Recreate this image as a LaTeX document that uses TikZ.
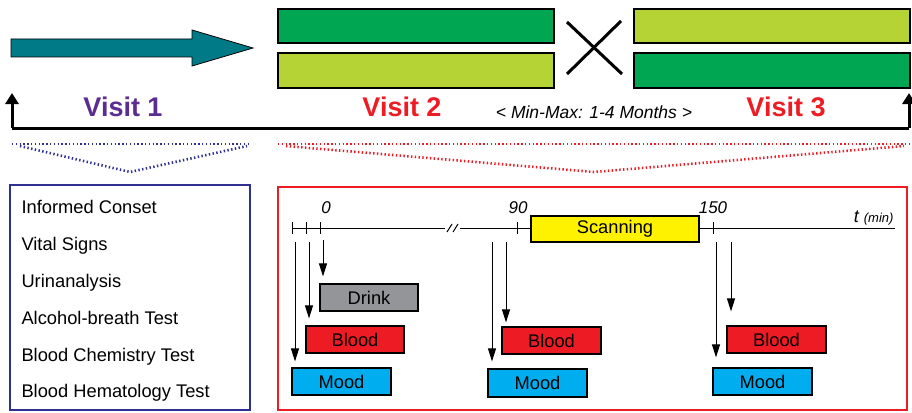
\documentclass[tikz,border=0pt]{standalone}
\usepackage{fontspec}
\setmainfont{Liberation Sans}
\usetikzlibrary{arrows.meta}
\definecolor{teal}{HTML}{007A87}
\definecolor{dgreen}{HTML}{00A651}
\definecolor{lime}{HTML}{B5D334}
\definecolor{vpurple}{HTML}{5C2D91}
\definecolor{vred}{HTML}{ED1C24}
\definecolor{navy}{HTML}{2E3192}
\definecolor{moodc}{HTML}{00AEEF}
\definecolor{drinkc}{HTML}{939598}
\definecolor{scanc}{HTML}{FFF200}
\begin{document}
\begin{tikzpicture}[x=1pt,y=-1pt,
  bar/.style={draw=black,line width=1.2pt},
  taskbox/.style={draw=black,line width=1.2pt,inner sep=0pt,font=\fontsize{18.3}{20}\selectfont},
  visit/.style={font=\fontsize{27}{30}\selectfont\bfseries,anchor=base},
  item/.style={font=\fontsize{18.3}{20}\selectfont,anchor=base west},
  tnum/.style={font=\fontsize{17}{19}\selectfont\itshape,anchor=base},
  down/.style={-{Triangle[length=13pt,width=8pt]},line width=1pt},
  bigup/.style={-{Triangle[length=11pt,width=13pt]},line width=3pt},
  dots/.style={line width=2.6pt,dash pattern=on 1.4pt off 2.4pt}]
\useasboundingbox (0,0) rectangle (912,412);

% design arrow and crossover bars
\draw[fill=teal,line width=0.8pt] (11,39) -- (192,39) -- (192,30) -- (253,48)
  -- (192,66) -- (192,57) -- (11,57) -- cycle;
\draw[bar,fill=dgreen] (278,9) rectangle (554,43);
\draw[bar,fill=lime] (278,53) rectangle (554,88);
\draw[bar,fill=lime] (634,9) rectangle (910,43);
\draw[bar,fill=dgreen] (634,53) rectangle (910,88);
\draw[line width=3pt] (567,22) -- (622,74);
\draw[line width=3pt] (567,74) -- (621,21);

% study timeline
\coordinate (tl) at (12,128);
\coordinate (tr) at (909,128);
\draw[bigup] (tl) -- (12,93);
\draw[bigup] (tr) -- (909,93);
\draw[line width=3pt] (tl) -- (tr);
\node[visit,text=vpurple] (v1) at (123,116) {Visit 1};
\node[visit,text=vred] (v2) at (402,116) {Visit 2};
\node[visit,text=vred] (v3) at (786,116) {Visit 3};
\node[font=\fontsize{17.5}{20}\selectfont\itshape,anchor=base] (mm) at (594,118) {< Min-Max: 1-4 Months >};

% dotted brackets
\draw[dots,navy] (12,144) -- (250,144);
\draw[dots,navy] (20,146) -- (130,172) -- (247,146);
\draw[dots,vred] (278,144) -- (909,144);
\draw[dots,vred] (286,146) -- (594,172) -- (904,146);

% visit 1 panel
\draw[navy,line width=2pt] (10,185) rectangle (250,410);
\node[item] (i1) at (18,213) {Informed Conset};
\node[item] (i2) at (18,250) {Vital Signs};
\node[item] (i3) at (18,287) {Urinanalysis};
\node[item] (i4) at (18,324) {Alcohol-breath Test};
\node[item] (i5) at (18,361) {Blood Chemistry Test};
\node[item] (i6) at (18,397) {Blood Hematology Test};

% visit 2/3 panel
\draw[vred,line width=2.5pt] (278,187) rectangle (907,410);
\draw[line width=1pt] (292,228) -- (445,228);
\draw[line width=1pt] (460,228) -- (895,228);
\draw[line width=1pt] (447,232) -- (452,224) (453,232) -- (458,224);
\foreach \x/\n in {292/k1,306/k2,320/k3,517/k4,713/k5}{
  \coordinate (\n) at (\x,228);
  \draw[line width=1pt] (\x,222) -- (\x,234);
}
\node[tnum] (n0) at (326,213) {0};
\node[tnum] (n90) at (518,213) {90};
\node[tnum] (n150) at (713,213) {150};
\node[anchor=base east] (tlab) at (897,222) {\fontsize{18}{20}\selectfont\itshape t \fontsize{13}{15}\selectfont(min)};

\node[taskbox,fill=scanc,minimum width=168pt,minimum height=26pt] (scan) at (615,229) {Scanning};
\node[taskbox,fill=drinkc,minimum width=98pt,minimum height=27pt] (drink) at (369,297.5) {Drink};
\node[taskbox,fill=vred,minimum width=98pt,minimum height=27pt] (blood1) at (355,339.5) {Blood};
\node[taskbox,fill=moodc,minimum width=99pt,minimum height=27pt] (mood1) at (341.5,381.5) {Mood};
\node[taskbox,fill=vred,minimum width=99pt,minimum height=27pt] (blood2) at (551.5,340.5) {Blood};
\node[taskbox,fill=moodc,minimum width=99pt,minimum height=28pt] (mood2) at (537.5,383) {Mood};
\node[taskbox,fill=vred,minimum width=99pt,minimum height=27pt] (blood3) at (776.5,339.5) {Blood};
\node[taskbox,fill=moodc,minimum width=99pt,minimum height=27pt] (mood3) at (762.5,381.5) {Mood};

% sampling arrows
\coordinate (a1) at (295,242);
\coordinate (a2) at (309,242);
\coordinate (a3) at (323,240);
\coordinate (a4) at (492,242);
\coordinate (a5) at (506,242);
\coordinate (a6) at (716,242);
\coordinate (a7) at (731,242);
\draw[down,shorten >=6pt] (a1) -- (a1 |- mood1.north);
\draw[down,shorten >=7pt] (a2) -- (a2 |- blood1.north);
\draw[down,shorten >=7pt] (a3) -- (a3 |- drink.north);
\draw[down,shorten >=7pt] (a4) -- (a4 |- mood2.north);
\draw[down,shorten >=4pt] (a5) -- (a5 |- blood2.north);
\draw[down,shorten >=10pt] (a6) -- (a6 |- mood3.north);
\draw[down,shorten >=14pt] (a7) -- (a7 |- blood3.north);
\end{tikzpicture}
\end{document}
